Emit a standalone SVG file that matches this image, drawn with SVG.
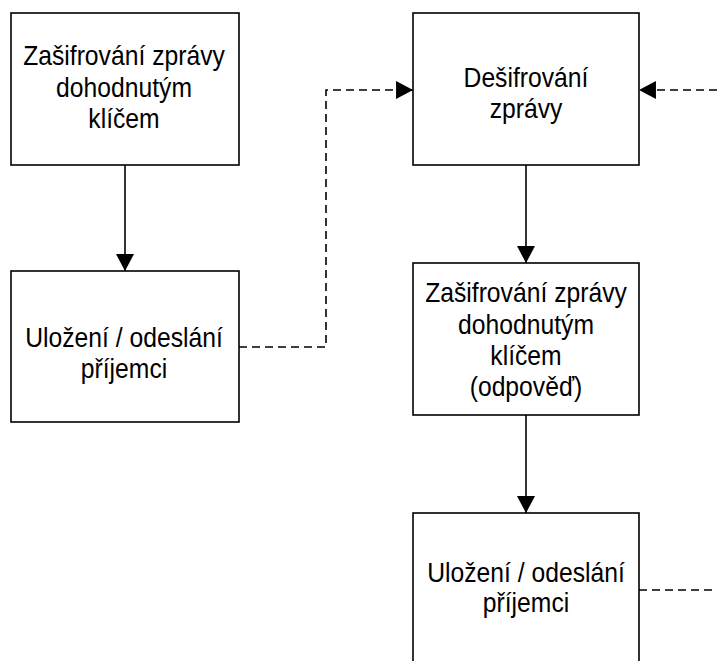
<svg xmlns="http://www.w3.org/2000/svg" width="717" height="661" viewBox="0 0 717 661">
  <style>
    .box { fill: #ffffff; stroke: #000000; stroke-width: 1.6; }
    .label { font-family: "Liberation Sans", Arial, sans-serif; font-size: 24.7px; fill: #000000; text-anchor: middle; }
    .flow { fill: none; stroke: #000000; stroke-width: 1.6; }
    .dashed { stroke-dasharray: 8 5; }
  </style>
  <defs>
    <marker id="arrow" markerUnits="userSpaceOnUse" markerWidth="18" markerHeight="18" viewBox="0 0 16 17" refX="16" refY="8.5" orient="auto">
      <path d="M0,0 L16,8.5 L0,17 Z" fill="#000000"/>
    </marker>
  </defs>

  <rect width="717" height="661" fill="#ffffff"/>

  <!-- connectors -->
  <g id="connectors">
    <path class="flow" d="M125,165 V271" marker-end="url(#arrow)"/>
    <path class="flow" d="M526,165 V263" marker-end="url(#arrow)"/>
    <path class="flow" d="M526,415 V513" marker-end="url(#arrow)"/>
    <path class="flow dashed" d="M239,347 H326 V90 H413" marker-end="url(#arrow)"/>
    <path class="flow dashed" d="M717,90 H639" marker-end="url(#arrow)"/>
    <path class="flow dashed" d="M639,590 H717"/>
  </g>

  <!-- sender: encrypt (labels are slightly stretched vertically) -->
  <g id="encrypt-sender">
    <rect class="box" x="11" y="13" width="228" height="152"/>
    <text class="label" transform="translate(124 65) scale(1 1.12)">Zašifrování zprávy</text>
    <text class="label" transform="translate(124 96.7) scale(1 1.12)">dohodnutým</text>
    <text class="label" transform="translate(124 128) scale(1 1.12)">klíčem</text>
  </g>

  <!-- sender: store / send -->
  <g id="send-sender">
    <rect class="box" x="11" y="271" width="228" height="151"/>
    <text class="label" transform="translate(124 346.5) scale(1 1.12)">Uložení / odeslání</text>
    <text class="label" transform="translate(124 377.5) scale(1 1.12)">příjemci</text>
  </g>

  <!-- receiver: decrypt -->
  <g id="decrypt">
    <rect class="box" x="413" y="13" width="226" height="152"/>
    <text class="label" transform="translate(526 86.5) scale(1 1.12)">Dešifrování</text>
    <text class="label" transform="translate(526 117.5) scale(1 1.12)">zprávy</text>
  </g>

  <!-- receiver: encrypt reply -->
  <g id="encrypt-reply">
    <rect class="box" x="413" y="263" width="226" height="152"/>
    <text class="label" transform="translate(526 302) scale(1 1.12)">Zašifrování zprávy</text>
    <text class="label" transform="translate(526 333.5) scale(1 1.12)">dohodnutým</text>
    <text class="label" transform="translate(526 365) scale(1 1.12)">klíčem</text>
    <text class="label" transform="translate(526 396) scale(1 1.12)">(odpověď)</text>
  </g>

  <!-- receiver: store / send reply -->
  <g id="send-reply">
    <rect class="box" x="413" y="513" width="226" height="152"/>
    <text class="label" transform="translate(526 582) scale(1 1.12)">Uložení / odeslání</text>
    <text class="label" transform="translate(526 612) scale(1 1.12)">příjemci</text>
  </g>
</svg>
